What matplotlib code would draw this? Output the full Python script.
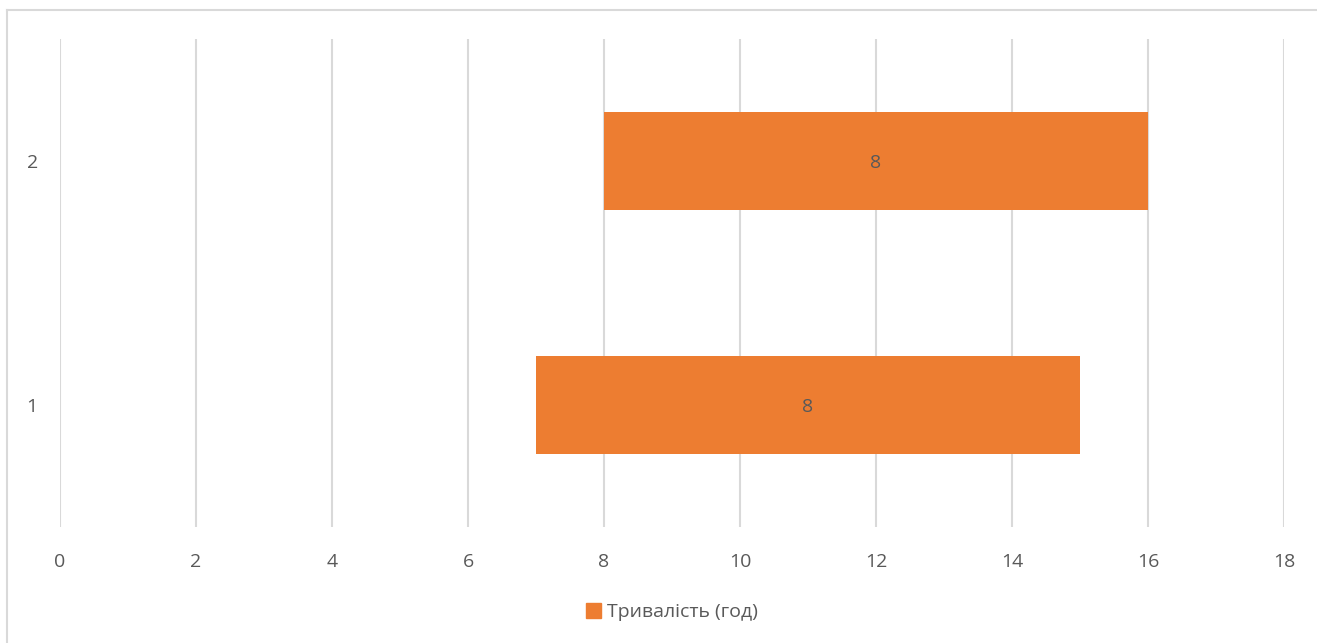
import matplotlib.pyplot as plt
from matplotlib.lines import Line2D
from matplotlib.patches import Patch

# Графік робіт: початок і тривалість кожної задачі (год)
tasks = [1, 2]
start = [7, 8]
duration = [8, 8]
series_name = "Тривалість (год)"
x_ticks = [0, 2, 4, 6, 8, 10, 12, 14, 16, 18]

BAR_COLOR = "#ED7D31"
GRID_COLOR = "#D9D9D9"
TEXT_COLOR = "#595959"

plt.rcParams["font.family"] = ["Open Sans", "DejaVu Sans"]

fig = plt.figure(figsize=(13.17, 6.43), dpi=100)
ax = fig.add_axes([60 / 1317, 1 - 527 / 643, 1224 / 1317, 488 / 643])

# невидимий відрізок до початку задачі
ax.barh(tasks, start, height=0.4, color="none")
bars = ax.barh(tasks, duration, left=start, height=0.4, color=BAR_COLOR)

for bar, d in zip(bars, duration):
    ax.text(
        bar.get_x() + bar.get_width() / 2,
        bar.get_y() + bar.get_height() / 2 - 0.01,
        f"{d}",
        ha="center",
        va="center",
        fontsize=14,
        color=TEXT_COLOR,
    )

ax.set_xlim(0, 18)
ax.set_ylim(0.5, 2.5)
ax.set_xticks(x_ticks)
ax.set_yticks(tasks)
ax.set_yticklabels([str(t) for t in tasks])
ax.tick_params(length=0, labelsize=14, labelcolor=TEXT_COLOR)
ax.tick_params(axis="x", pad=19)
ax.tick_params(axis="y", pad=16)

ax.grid(axis="x", color=GRID_COLOR, linewidth=1.5)
ax.set_axisbelow(True)
for side in ["top", "right", "bottom", "left"]:
    ax.spines[side].set_visible(False)

# рамка області діаграми
fig.add_artist(Line2D([7 / 1317, 7 / 1317], [0, 1 - 10 / 643],
                      transform=fig.transFigure, color=GRID_COLOR, linewidth=1.5))
fig.add_artist(Line2D([7 / 1317, 1], [1 - 10 / 643, 1 - 10 / 643],
                      transform=fig.transFigure, color=GRID_COLOR, linewidth=1.5))

fig.legend(
    handles=[Patch(color=BAR_COLOR, label=series_name)],
    loc="center",
    bbox_to_anchor=(0.51, 1 - 612 / 643),
    frameon=False,
    fontsize=14,
    labelcolor=TEXT_COLOR,
    handlelength=0.8,
    handleheight=0.8,
    handletextpad=0.3,
)

fig.savefig("out.png", dpi=100)
